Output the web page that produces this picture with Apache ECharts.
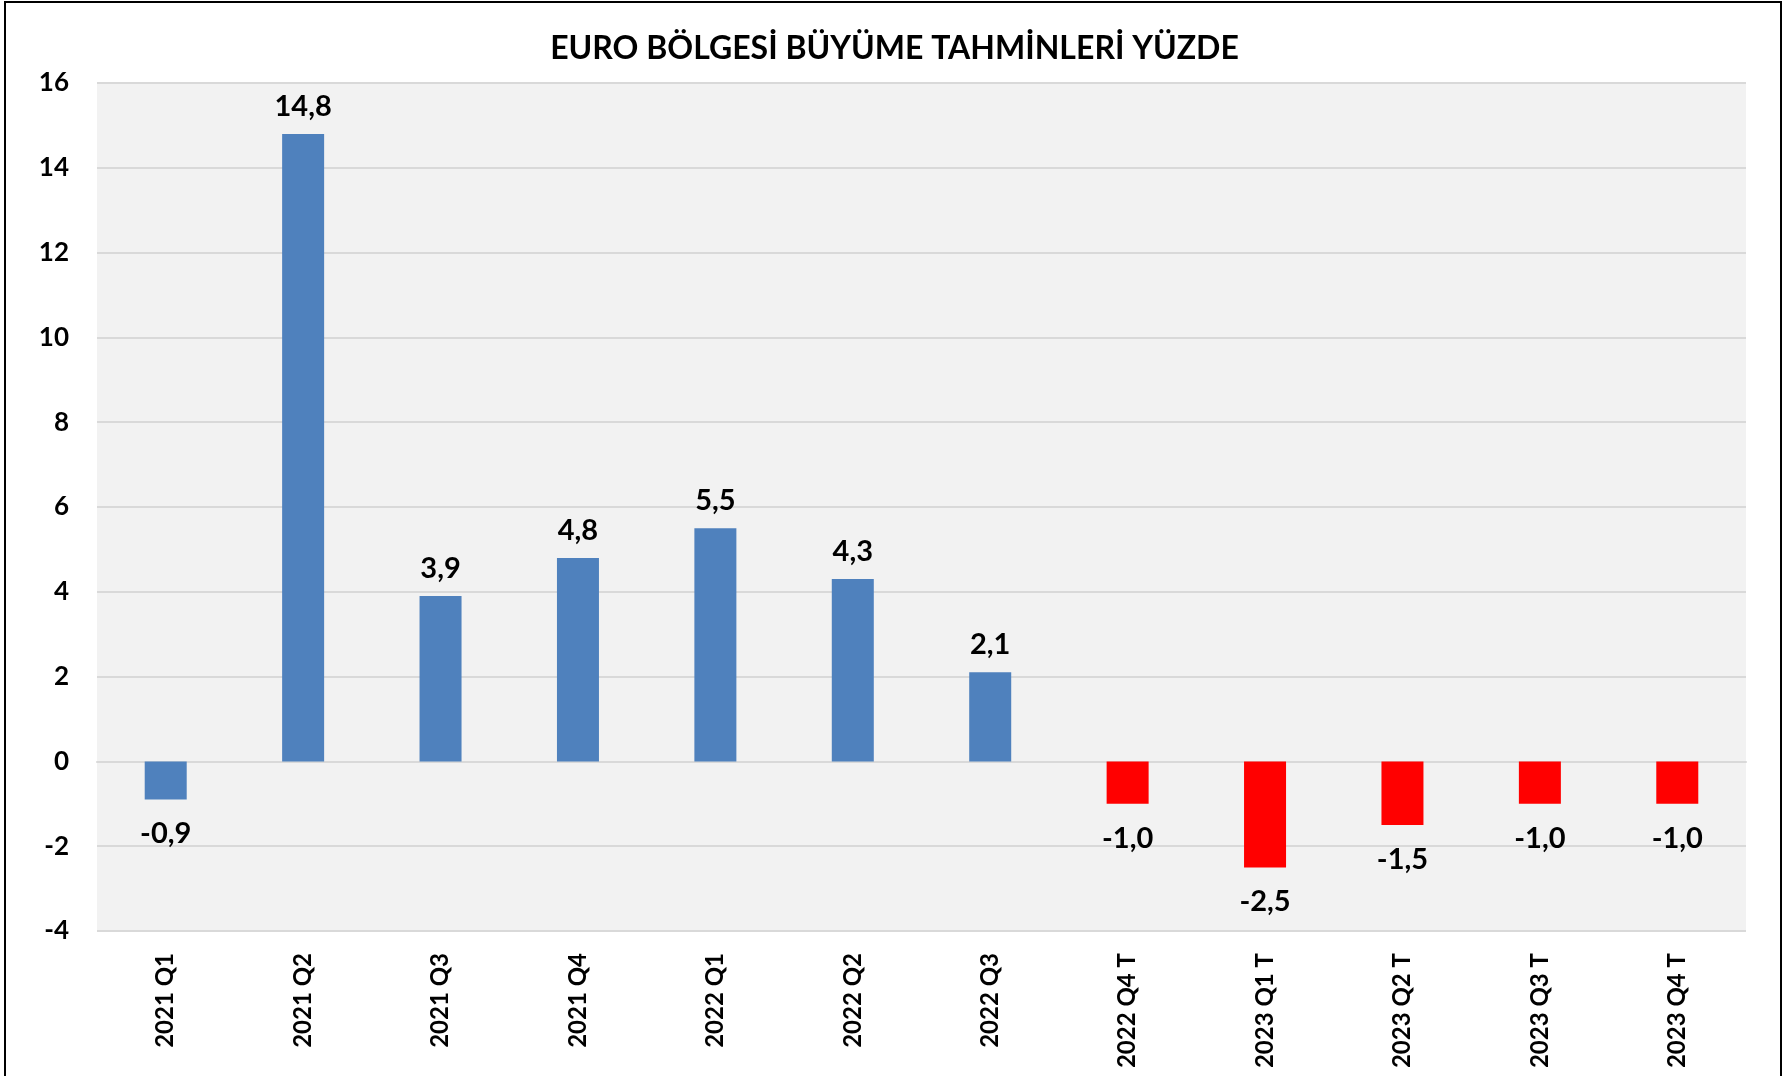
<!DOCTYPE html>
<html>
<head>
<meta charset="utf-8">
<title>Euro Bölgesi Büyüme Tahminleri</title>
<script src="https://cdn.jsdelivr.net/npm/echarts@6/dist/echarts.min.js"></script>
<style>
  html, body { margin: 0; padding: 0; background: #fff; }
  #chart { width: 1789px; height: 1076px; }
</style>
</head>
<body>
<div id="chart"></div>
<script>
// veriler
const categories = ['2021 Q1', '2021 Q2', '2021 Q3', '2021 Q4', '2022 Q1', '2022 Q2', '2022 Q3',
  '2022 Q4 T', '2023 Q1 T', '2023 Q2 T', '2023 Q3 T', '2023 Q4 T']
const growth = [-0.9, 14.8, 3.9, 4.8, 5.5, 4.3, 2.1, -1.0, -2.5, -1.5, -1.0, -1.0]
// gerçekleşen / tahmin
const isForecast = [false, false, false, false, false, false, false, true, true, true, true, true]
const yTicks = { min: -4, max: 16, step: 2 }

const FONT = 'Lato, "Open Sans", sans-serif'

const seriesData = growth.map((v, i) => ({
  value: v,
  itemStyle: { color: isForecast[i] ? '#ff0000' : '#4f81bd' },
  label: v < 0 ? { position: 'bottom', distance: 20 } : { position: 'top', distance: 13 }
}))

const myChart = echarts.init(document.getElementById('chart'))
myChart.setOption({
  animation: false,
  backgroundColor: '#ffffff',
  title: {
    text: 'EURO BÖLGESİ BÜYÜME TAHMİNLERİ YÜZDE',
    left: 'center',
    top: 28,
    textStyle: {
      fontFamily: FONT,
      fontSize: 32,
      fontWeight: 'bold',
      color: '#000'
    }
  },
  graphic: [{
    type: 'rect',
    shape: { x: 5, y: 2, width: 1776, height: 1100 },
    style: { fill: 'none', stroke: '#000', lineWidth: 2 },
    silent: true
  }],
  grid: {
    left: 97,
    right: 43,
    top: 83,
    bottom: 145,
    show: true,
    backgroundColor: '#f2f2f2',
    borderWidth: 0
  },
  xAxis: {
    type: 'category',
    data: categories,
    axisLine: { show: true, lineStyle: { color: '#d9d9d9', width: 2 } },
    axisTick: { show: false },
    axisLabel: {
      rotate: 90,
      margin: 22,
      interval: 0,
      fontFamily: FONT,
      fontSize: 24,
      fontWeight: 'bold',
      color: '#000'
    }
  },
  yAxis: {
    type: 'value',
    min: yTicks.min,
    max: yTicks.max,
    interval: yTicks.step,
    axisLine: { show: false },
    axisTick: { show: false },
    axisLabel: {
      margin: 28,
      fontFamily: FONT,
      fontSize: 26,
      fontWeight: 'bold',
      color: '#000'
    },
    splitLine: {
      lineStyle: { color: '#d9d9d9', width: 2 }
    }
  },
  series: [{
    type: 'bar',
    data: seriesData,
    barWidth: 42,
    label: {
      show: true,
      fontFamily: FONT,
      fontSize: 29,
      fontWeight: 'bold',
      color: '#000',
      formatter: (p) => p.value.toFixed(1).replace('.', ',')
    }
  }]
})
</script>
</body>
</html>
